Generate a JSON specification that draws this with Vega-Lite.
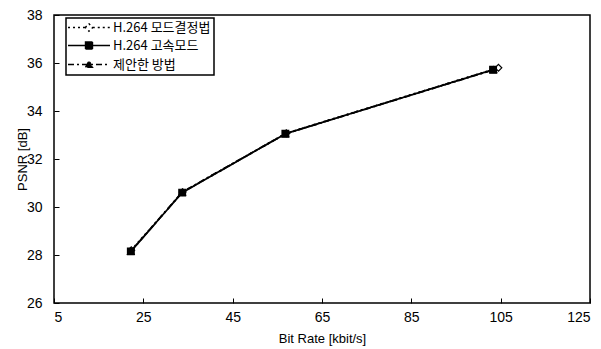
{
  "$schema": "https://vega.github.io/schema/vega-lite/v6.json",
  "width": 536,
  "height": 288,
  "autosize": {"type": "none"},
  "padding": {"left": 54, "top": 15, "right": 11, "bottom": 46},
  "background": "white",
  "config": {
    "view": {"stroke": "black", "strokeWidth": 1.5},
    "font": "Liberation Sans",
    "axis": {
      "grid": false,
      "domain": false,
      "tickColor": "black",
      "tickSize": -5,
      "labelColor": "black",
      "labelFontSize": 14,
      "labelFont": "Liberation Sans",
      "titleColor": "black",
      "titleFont": "Liberation Sans",
      "titleFontSize": 13,
      "titleFontWeight": "normal"
    }
  },
  "data": {
    "values": [
      {"series": "H.264 모드결정법", "rate": 22.3, "psnr": 28.2},
      {"series": "H.264 모드결정법", "rate": 33.8, "psnr": 30.62},
      {"series": "H.264 모드결정법", "rate": 57.0, "psnr": 33.07},
      {"series": "H.264 모드결정법", "rate": 104.5, "psnr": 35.8},
      {"series": "제안한 방법", "rate": 22.2, "psnr": 28.15},
      {"series": "제안한 방법", "rate": 33.7, "psnr": 30.62},
      {"series": "제안한 방법", "rate": 56.8, "psnr": 33.05},
      {"series": "제안한 방법", "rate": 103.4, "psnr": 35.72},
      {"series": "H.264 고속모드", "rate": 22.2, "psnr": 28.15},
      {"series": "H.264 고속모드", "rate": 33.7, "psnr": 30.6},
      {"series": "H.264 고속모드", "rate": 56.8, "psnr": 33.05},
      {"series": "H.264 고속모드", "rate": 103.3, "psnr": 35.72}
    ]
  },
  "resolve": {"scale": {"shape": "independent", "fill": "independent", "strokeDash": "independent"}, "legend": {"shape": "independent", "fill": "independent", "strokeDash": "independent"}},
  "encoding": {
    "x": {
      "field": "rate", "type": "quantitative",
      "scale": {"domain": [5, 125], "nice": false, "zero": false},
      "axis": {"values": [5, 25, 45, 65, 85, 105, 125], "title": "Bit Rate [kbit/s]", "labelPadding": 12, "titleX": 268, "titleY": 35, "titleBaseline": "middle", "titleAnchor": null}
    },
    "y": {
      "field": "psnr", "type": "quantitative",
      "scale": {"domain": [26, 38], "nice": false, "zero": false},
      "axis": {"values": [26, 28, 30, 32, 34, 36, 38], "title": "PSNR [dB]", "labelPadding": 17, "titleX": -32, "titleY": 144, "titleBaseline": "middle", "titleAngle": -90}
    }
  },
  "layer": [
    {
      "mark": {"type": "line", "color": "black", "strokeWidth": 1.8},
      "encoding": {
        "detail": {"field": "series"},
        "strokeDash": {
          "field": "series", "type": "nominal",
          "scale": {"domain": ["H.264 모드결정법", "H.264 고속모드", "제안한 방법"], "range": [[2, 3], [1, 0], [6, 3, 2, 3]]},
          "legend": {
            "orient": "none", "legendX": 12, "legendY": 3, "title": null,
            "strokeColor": "black", "padding": 3, "rowPadding": 4,
            "labelFont": "Noto Sans CJK KR", "labelFontSize": 13, "labelColor": "black", "labelOffset": 31,
            "symbolSize": 100, "symbolStrokeColor": "black", "symbolStrokeWidth": 1.4,
            "encode": {
              "legend": {"update": {"strokeWidth": {"value": 1.5}}},
              "symbols": {"update": {
                "shape": {"signal": "datum.index == 0 ? 'M-4.2,0H-0.75M0.75,0H4.2M-0.75,0L0,-0.75L0.75,0L0,0.75Z' : datum.index == 1 ? 'M-4.2,0H4.2M-0.7,-0.7H0.7V0.7H-0.7Z' : 'M-4.2,0H4.2M-0.7,0.55L0,-0.75L0.7,0.55Z'"},
                "fill": {"signal": "datum.index == 0 ? 'white' : 'black'"},
                "stroke": {"value": "black"},
                "size": {"value": 100},
                "x": {"value": 20}
              }}
            }
          }
        }
      }
    },
    {
      "mark": {"type": "point", "filled": true, "stroke": "black", "strokeWidth": 1.2, "opacity": 1},
      "encoding": {
        "shape": {
          "field": "series", "type": "nominal",
          "scale": {"domain": ["H.264 모드결정법", "H.264 고속모드", "제안한 방법"], "range": ["diamond", "square", "triangle-up"]},
          "legend": null
        },
        "fill": {
          "field": "series", "type": "nominal",
          "scale": {"domain": ["H.264 모드결정법", "H.264 고속모드", "제안한 방법"], "range": ["white", "black", "black"]},
          "legend": null
        },
        "size": {"value": 45}
      }
    }
  ]
}
